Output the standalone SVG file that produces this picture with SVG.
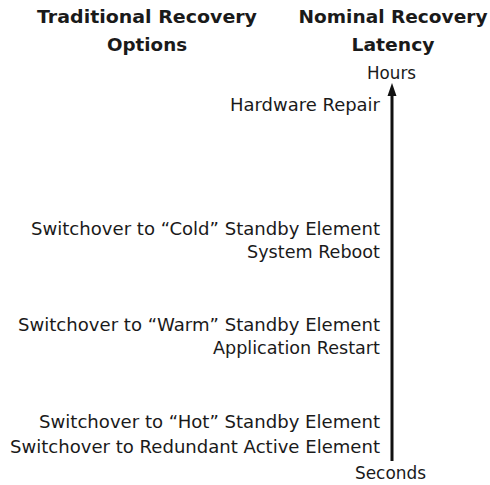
<svg xmlns="http://www.w3.org/2000/svg" width="490" height="485" viewBox="0 0 490 485">
<style>
text{font-family:"DejaVu Sans",sans-serif;fill:#1a1a1a}
.h{font-size:18px;font-weight:bold;text-anchor:middle}
.l{font-size:17px;text-anchor:end}
.c{font-size:17px;text-anchor:middle}
</style>
<defs>
<marker id="ah" markerWidth="9" markerHeight="13" refX="4.5" refY="12" orient="auto-start-reverse" markerUnits="userSpaceOnUse" viewBox="0 0 9 13">
<path d="M0,13 L4.5,0 L9,13 Z" fill="#111"/>
</marker>
</defs>
<g id="headers">
<text class="h" x="147" y="23" textLength="220" lengthAdjust="spacingAndGlyphs">Traditional Recovery</text>
<text class="h" x="147" y="51" textLength="80" lengthAdjust="spacingAndGlyphs">Options</text>
<text class="h" x="393" y="23" textLength="189" lengthAdjust="spacingAndGlyphs">Nominal Recovery</text>
<text class="h" x="393" y="51" textLength="83" lengthAdjust="spacingAndGlyphs">Latency</text>
</g>
<g id="connectors">
<path d="M392,461 V94" stroke="#111" stroke-width="3" fill="none"/>
<path d="M387.5,96 L392,83 L396.5,96 Z" fill="#111"/>
</g>
<g id="axis-labels">
<text class="c" x="391.5" y="79" textLength="49" lengthAdjust="spacingAndGlyphs">Hours</text>
<text class="c" x="390.5" y="479" textLength="71" lengthAdjust="spacingAndGlyphs">Seconds</text>
</g>
<g id="hardware-repair"><text class="l" x="380" y="111" textLength="150" lengthAdjust="spacingAndGlyphs">Hardware Repair</text></g>
<g id="cold"><text class="l" x="380" y="235" textLength="349" lengthAdjust="spacingAndGlyphs">Switchover to “Cold” Standby Element</text><text class="l" x="380" y="258" textLength="133" lengthAdjust="spacingAndGlyphs">System Reboot</text></g>
<g id="warm"><text class="l" x="380" y="331" textLength="362" lengthAdjust="spacingAndGlyphs">Switchover to “Warm” Standby Element</text><text class="l" x="380" y="354" textLength="167" lengthAdjust="spacingAndGlyphs">Application Restart</text></g>
<g id="hot"><text class="l" x="380" y="428" textLength="341" lengthAdjust="spacingAndGlyphs">Switchover to “Hot” Standby Element</text><text class="l" x="380" y="453" textLength="370" lengthAdjust="spacingAndGlyphs">Switchover to Redundant Active Element</text></g>
</svg>
